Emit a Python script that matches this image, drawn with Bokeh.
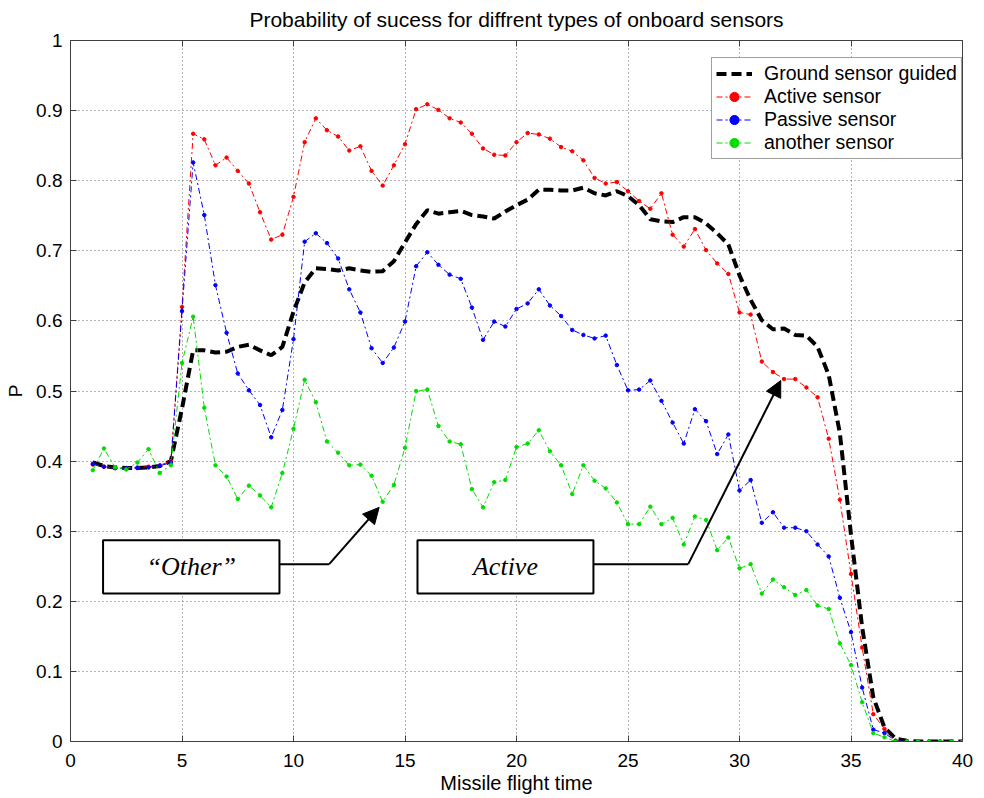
from bokeh.plotting import figure
from bokeh.models import (Legend, LegendItem, FixedTicker, LinearAxis, BoxAnnotation,
                          Label, Arrow, NormalHead, Range1d, CustomLabelingPolicy)
from bokeh.embed import file_html
from bokeh.resources import INLINE

# ---------------- data ----------------
time = [1, 1.5, 2, 2.5, 3, 3.5, 4, 4.5, 5, 5.5, 6, 6.5, 7, 7.5, 8, 8.5, 9, 9.5, 10, 10.5,
        11, 11.5, 12, 12.5, 13, 13.5, 14, 14.5, 15, 15.5, 16, 16.5, 17, 17.5, 18, 18.5, 19, 19.5, 20, 20.5,
        21, 21.5, 22, 22.5, 23, 23.5, 24, 24.5, 25, 25.5, 26, 26.5, 27, 27.5, 28, 28.5, 29, 29.5, 30, 30.5,
        31, 31.5, 32, 32.5, 33, 33.5, 34, 34.5, 35, 35.5, 36, 36.5, 37, 37.5, 38, 38.5, 39, 39.5, 40]

ground = [0.398, 0.393, 0.391, 0.390, 0.390, 0.391, 0.393, 0.400, 0.475, 0.558,
          0.558, 0.555, 0.556, 0.563, 0.566, 0.558, 0.551, 0.563, 0.613, 0.655,
          0.675, 0.674, 0.672, 0.675, 0.672, 0.670, 0.671, 0.685, 0.712, 0.738,
          0.758, 0.753, 0.755, 0.757, 0.751, 0.749, 0.746, 0.756, 0.765, 0.773,
          0.787, 0.787, 0.786, 0.786, 0.790, 0.782, 0.779, 0.785, 0.778, 0.765,
          0.745, 0.742, 0.741, 0.748, 0.748, 0.739, 0.725, 0.709, 0.665, 0.630,
          0.601, 0.588, 0.589, 0.580, 0.579, 0.563, 0.523, 0.440, 0.295, 0.163,
          0.063, 0.020, 0.004, 0.001, 0.0, 0.0, 0.0, 0.0, 0.0]

active = [0.395, 0.392, 0.390, 0.390, 0.391, 0.392, 0.394, 0.400, 0.620, 0.867,
          0.859, 0.822, 0.833, 0.814, 0.796, 0.755, 0.716, 0.723, 0.777, 0.855,
          0.889, 0.872, 0.863, 0.843, 0.849, 0.814, 0.793, 0.822, 0.852, 0.902,
          0.909, 0.901, 0.889, 0.883, 0.867, 0.846, 0.837, 0.836, 0.855, 0.868,
          0.866, 0.860, 0.848, 0.842, 0.829, 0.804, 0.796, 0.798, 0.785, 0.771,
          0.760, 0.782, 0.723, 0.706, 0.731, 0.701, 0.682, 0.667, 0.612, 0.609,
          0.542, 0.527, 0.517, 0.517, 0.505, 0.491, 0.432, 0.345, 0.239, 0.134,
          0.039, 0.018, 0.001, 0.0, 0.0, 0.0, 0.0, 0.0, 0.0]

passive = [0.396, 0.392, 0.390, 0.390, 0.390, 0.391, 0.393, 0.398, 0.614, 0.826,
           0.751, 0.651, 0.583, 0.525, 0.501, 0.480, 0.434, 0.473, 0.574, 0.713,
           0.725, 0.711, 0.689, 0.645, 0.612, 0.561, 0.540, 0.562, 0.599, 0.678,
           0.698, 0.680, 0.666, 0.660, 0.619, 0.573, 0.599, 0.592, 0.617, 0.625,
           0.645, 0.622, 0.607, 0.587, 0.580, 0.575, 0.579, 0.537, 0.501, 0.502,
           0.515, 0.486, 0.455, 0.425, 0.474, 0.457, 0.410, 0.438, 0.358, 0.373,
           0.312, 0.327, 0.305, 0.305, 0.300, 0.281, 0.264, 0.205, 0.156, 0.077,
           0.017, 0.012, 0.001, 0.0, 0.0, 0.0, 0.0, 0.0, 0.0]

another = [0.387, 0.418, 0.391, 0.388, 0.398, 0.417, 0.383, 0.394, 0.540, 0.606,
           0.476, 0.394, 0.378, 0.346, 0.365, 0.351, 0.334, 0.383, 0.446, 0.516,
           0.484, 0.428, 0.412, 0.394, 0.395, 0.379, 0.342, 0.366, 0.419, 0.500,
           0.502, 0.450, 0.428, 0.424, 0.360, 0.334, 0.370, 0.373, 0.420, 0.425,
           0.444, 0.414, 0.394, 0.353, 0.394, 0.372, 0.361, 0.341, 0.310, 0.310,
           0.335, 0.310, 0.319, 0.281, 0.321, 0.316, 0.273, 0.291, 0.247, 0.253,
           0.211, 0.231, 0.220, 0.209, 0.216, 0.194, 0.189, 0.140, 0.109, 0.056,
           0.012, 0.006, 0.0, 0.0, 0.0, 0.0, 0.0, 0.0, 0.0]

series_names = ["Ground sensor guided", "Active sensor", "Passive sensor", "another sensor"]

x_ticks = [0, 5, 10, 15, 20, 25, 30, 35, 40]
x_tick_labels = ["0", "5", "10", "15", "20", "25", "30", "35", "40"]
y_ticks = [0, 0.1, 0.2, 0.3, 0.4, 0.5, 0.6, 0.7, 0.8, 0.9, 1]
y_tick_labels = ["0", "0.1", "0.2", "0.3", "0.4", "0.5", "0.6", "0.7", "0.8", "0.9", "1"]

title_text = "Probability of sucess for diffrent types of onboard sensors"
x_label = "Missile flight time"
y_label = "P"

# call-out annotations (data coordinates)
callout_texts = ["\u201cOther\u201d", "Active"]
callout_left = [1.46, 15.56]
callout_right = [9.37, 23.45]
callout_bottom = [0.211, 0.211]
callout_top = [0.287, 0.287]
callout_line_y = [0.253, 0.253]
callout_elbow_x = [11.6, 27.7]
callout_tip_x = [13.84, 31.85]
callout_tip_y = [0.334, 0.515]

# ---------------- figure ----------------
FONT = "Liberation Sans"
AX = "#404040"

p = figure(width=984, height=798, x_range=Range1d(0, 40), y_range=Range1d(0, 1),
           output_backend="svg", toolbar_location=None,
           min_border_left=70, min_border_right=22, min_border_top=37, min_border_bottom=57,
           background_fill_color="white", border_fill_color="white")

p.title.text = title_text
p.title.align = "center"
p.title.text_font = FONT
p.title.text_font_size = "21px"
p.title.text_font_style = "normal"
p.title.text_color = "black"
p.title.standoff = 11

p.outline_line_color = AX
p.outline_line_width = 1

xt = FixedTicker(ticks=x_ticks)
yt = FixedTicker(ticks=y_ticks)

for ax in p.xaxis:
    ax.ticker = xt
    ax.major_label_overrides = dict(zip(x_ticks, x_tick_labels))
    ax.axis_label = x_label
    ax.axis_label_standoff = 2
    ax.major_label_standoff = 12
    ax.axis_label_text_font_size = "20px"
for ax in p.yaxis:
    ax.ticker = yt
    ax.major_label_overrides = dict(zip(y_ticks, y_tick_labels))
    ax.axis_label = y_label
    ax.axis_label_standoff = 7
    ax.major_label_standoff = 8
    ax.axis_label_text_font_size = "19px"

for ax in list(p.xaxis) + list(p.yaxis):
    ax.major_label_text_font = FONT
    ax.major_label_text_font_size = "19px"
    ax.major_label_text_color = "black"
    ax.axis_label_text_font = FONT
    ax.axis_label_text_font_style = "normal"
    ax.axis_label_text_color = "black"
    ax.axis_line_color = AX
    ax.major_tick_line_color = AX
    ax.major_tick_in = 6
    ax.major_tick_out = 0
    ax.minor_tick_line_color = None

# mirrored axes (inward ticks only, no labels) on top and right
hide_all = CustomLabelingPolicy(code="for (const i of indices) { indices.unset(i) } return indices")
top_ax = LinearAxis(ticker=xt, major_label_text_font_size="1px", major_label_standoff=0,
                    major_label_policy=hide_all,
                    major_tick_in=6, major_tick_out=0, minor_tick_line_color=None,
                    axis_line_color=AX, major_tick_line_color=AX)
right_ax = LinearAxis(ticker=yt, major_label_text_font_size="1px", major_label_standoff=0,
                      major_label_policy=hide_all,
                      major_tick_in=6, major_tick_out=0, minor_tick_line_color=None,
                      axis_line_color=AX, major_tick_line_color=AX)
p.add_layout(top_ax, "above")
p.add_layout(right_ax, "right")

p.xgrid.ticker = xt
p.ygrid.ticker = yt
for g in (p.xgrid, p.ygrid):
    g.grid_line_color = "#333333"
    g.grid_line_alpha = 0.75
    g.grid_line_dash = "1 3"
    g.grid_line_width = 1

# ---------------- series ----------------
r_ground = p.line(time, ground, line_color="black", line_width=4, line_dash="10 5")

items = [LegendItem(label=series_names[0], renderers=[r_ground])]
styles = [(active, "#ff0000"), (passive, "#0000ff"), (another, "#00dd00")]
for (vals, col), name in zip(styles, series_names[1:]):
    rl = p.line(time, vals, line_color=col, line_width=1, line_dash="6 3 2 3")
    rs = p.scatter(time, vals, marker="circle", size=3.5, fill_color=col, line_color=col)
    items.append(LegendItem(label=name, renderers=[rl, rs]))

legend = Legend(items=items, location=(641, 582),
                label_text_font=FONT, label_text_font_size="19.5px", label_text_color="black",
                glyph_width=36, glyph_height=23, label_height=23, label_standoff=12,
                spacing=0, padding=4, margin=0,
                border_line_color=AX, border_line_width=1.5,
                background_fill_color="white", background_fill_alpha=1)
p.add_layout(legend)

# ---------------- call-outs ----------------
for i in range(len(callout_texts)):
    box = BoxAnnotation(left=callout_left[i], right=callout_right[i],
                        bottom=callout_bottom[i], top=callout_top[i],
                        fill_color="white", fill_alpha=1,
                        line_color="black", line_alpha=1, line_width=2, level="overlay")
    p.add_layout(box)
    p.add_layout(Label(x=(callout_left[i] + callout_right[i]) / 2,
                       y=(callout_bottom[i] + callout_top[i]) / 2,
                       text=callout_texts[i], text_font="Liberation Serif",
                       text_font_style="italic", text_font_size="26px",
                       text_align="center", text_baseline="middle",
                       text_color="black", level="overlay"))
    p.line([callout_right[i], callout_elbow_x[i]], [callout_line_y[i], callout_line_y[i]],
           line_color="black", line_width=2)
    p.add_layout(Arrow(end=NormalHead(size=16, fill_color="black", line_color="black"),
                       x_start=callout_elbow_x[i], y_start=callout_line_y[i],
                       x_end=callout_tip_x[i], y_end=callout_tip_y[i],
                       line_color="black", line_width=2))

open("out.html", "w").write(file_html(p, INLINE))
